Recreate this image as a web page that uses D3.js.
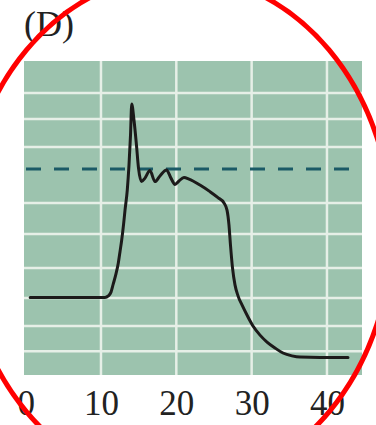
<!DOCTYPE html>
<html>
<head>
<meta charset="utf-8">
<script src="https://cdn.jsdelivr.net/npm/d3@7"></script>
<style>
  html, body { margin: 0; padding: 0; background: #fff; }
  svg { display: block; }
</style>
</head>
<body>
<svg id="chart" width="376" height="425"></svg>
<script>
// Time axis (x) and trace samples (y, arbitrary units)
const timeValues = [0.6, 10.53, 10.97, 11.33, 11.63, 11.99, 12.3, 12.52, 12.75, 12.99, 13.19, 13.49, 13.72,
  13.92, 14.08, 14.38, 14.71, 14.98, 15.38, 15.84, 16.5, 17.17, 17.83, 18.7, 19.29, 19.82, 20.35,
  21.02, 21.68, 23.14, 24.47, 25.53, 26.33, 26.73, 26.99, 27.19, 27.46, 27.79, 28.19, 28.72,
  29.38, 30.18, 31.11, 32.04, 33.1, 34.16, 35.35, 36.42, 39.07, 42.79];
const signalValues = [24.7, 24.7, 25.2, 26.4, 29.0, 32.2, 35.7, 39.2, 43.0, 47.8, 52.5, 58.9, 66.9,
  76.4, 86.3, 81.2, 73.2, 65.9, 61.6, 62.7, 65.1, 61.6, 63.4, 65.3, 62.7, 60.7, 61.8,
  62.9, 62.4, 60.5, 58.4, 56.5, 54.8, 52.5, 47.8, 41.4, 34.1, 28.7, 25.2, 22.3,
  19.1, 15.6, 12.7, 10.5, 8.6, 7.0, 6.1, 5.7, 5.6, 5.6];

const xTickValues = [0, 10, 20, 30, 40];
const xGridValues = [10, 20, 30, 40];
const yGridValues = [7.6, 15.6, 24.5, 34.1, 44.9, 54.8, 72.6, 81.5, 89.8];
const thresholdValue = 65.6;
const panelLabel = "(D)";

// Highlight ring around the panel (centre and radii in data units)
const ringCentre = [20.2, 45.9];
const ringRadii = [28.4, 81.5];

const svg = d3.select("#chart");
const panel = { left: 24, right: 362, top: 61, bottom: 375 };

const x = d3.scaleLinear().domain([-0.22, 44.65]).range([panel.left, panel.right]);
const y = d3.scaleLinear().domain([0, 100]).range([panel.bottom, panel.top]);

// Background panel
svg.append("rect")
  .attr("x", panel.left).attr("y", panel.top)
  .attr("width", panel.right - panel.left)
  .attr("height", panel.bottom - panel.top)
  .attr("fill", "#9cc3ae");

// Grid
const grid = svg.append("g").attr("stroke", "#e6efe7").attr("stroke-width", 2.5);
grid.selectAll("line.h").data(yGridValues).join("line")
  .attr("class", "h")
  .attr("x1", panel.left).attr("x2", panel.right)
  .attr("y1", d => y(d)).attr("y2", d => y(d));
grid.selectAll("line.v").data(xGridValues).join("line")
  .attr("class", "v")
  .attr("x1", d => x(d)).attr("x2", d => x(d))
  .attr("y1", panel.top).attr("y2", panel.bottom);

// Threshold (dashed)
svg.append("line")
  .attr("x1", panel.left + 2).attr("x2", panel.right - 2)
  .attr("y1", y(thresholdValue)).attr("y2", y(thresholdValue))
  .attr("stroke", "#1b5a66")
  .attr("stroke-width", 3)
  .attr("stroke-dasharray", "15,13");

// Trace
const points = timeValues.map((t, i) => [t, signalValues[i]]);
const line = d3.line()
  .x(d => x(d[0]))
  .y(d => y(d[1]))
  .curve(d3.curveMonotoneX);
svg.append("path")
  .datum(points)
  .attr("d", line)
  .attr("fill", "none")
  .attr("stroke", "#1c1a1a")
  .attr("stroke-width", 3)
  .attr("stroke-linejoin", "round")
  .attr("stroke-linecap", "round");

// X axis labels
const xAxis = d3.axisBottom(x).tickValues(xTickValues).tickSize(0).tickPadding(0);
const axisG = svg.append("g")
  .attr("transform", `translate(0,${panel.bottom})`)
  .call(xAxis);
axisG.select(".domain").remove();
axisG.selectAll("text")
  .attr("y", 40)
  .attr("dy", 0)
  .attr("fill", "#222")
  .style("font-family", "'Liberation Serif', 'DejaVu Serif', serif")
  .style("font-size", "35px");

// Panel label
svg.append("text")
  .attr("x", 24).attr("y", 36)
  .attr("fill", "#222")
  .style("font-family", "'Liberation Serif', 'DejaVu Serif', serif")
  .style("font-size", "36px")
  .text(panelLabel);

// Highlight ring
svg.append("ellipse")
  .attr("cx", x(ringCentre[0]))
  .attr("cy", y(ringCentre[1]))
  .attr("rx", x(ringCentre[0] + ringRadii[0]) - x(ringCentre[0]))
  .attr("ry", y(0) - y(ringRadii[1]))
  .attr("fill", "none")
  .attr("stroke", "#ff0000")
  .attr("stroke-width", 5);
</script>
</body>
</html>
